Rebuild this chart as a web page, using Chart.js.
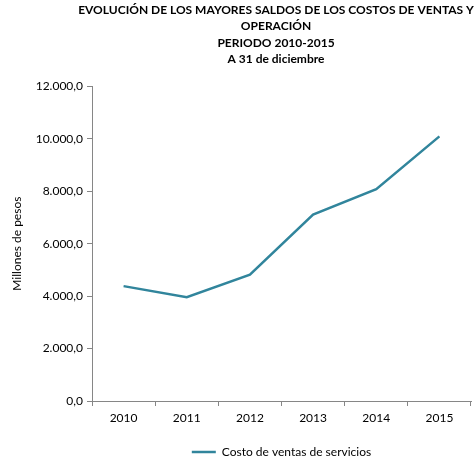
<!DOCTYPE html>
<html lang="es">
<head>
    <meta charset="UTF-8">
    <title>Costos de ventas 2010-2015</title>
    <style>
        html, body { margin: 0; background: #fff; overflow: hidden; }
        /* canvas runs past the page edge so the title is centred
           over the plot and can overhang it on the right */
        #chart-container { width: 550px; height: 468px; }
    </style>
</head>
<body>
    <div id="chart-container">
        <canvas id="costChart"></canvas>
    </div>

    <script src="https://cdn.jsdelivr.net/npm/chart.js"></script>
    <script>
        // Datos (millones de pesos)
        const years = ['2010', '2011', '2012', '2013', '2014', '2015'];
        const costoVentasServicios = [4380, 3960, 4820, 7110, 8080, 10090];
        const titleLines = [
            'EVOLUCIÓN DE LOS MAYORES SALDOS DE LOS COSTOS DE VENTAS Y',
            'OPERACIÓN',
            'PERIODO 2010-2015',
            'A 31 de diciembre'
        ];

        const axisGray = '#868686';
        const lineColor = '#31859C';

        // 12000 -> "12.000,0"
        function formatNumber(v) {
            const parts = Number(v).toFixed(1).split('.');
            parts[0] = parts[0].replace(/\B(?=(\d{3})+(?!\d))/g, '.');
            return parts.join(',');
        }

        Chart.defaults.font.family = 'Lato, "Liberation Sans", sans-serif';
        Chart.defaults.color = '#000';

        const ctx = document.getElementById('costChart').getContext('2d');
        new Chart(ctx, {
            type: 'line',
            data: {
                labels: years,
                datasets: [{
                    label: 'Costo de ventas de servicios',
                    data: costoVentasServicios,
                    borderColor: lineColor,
                    backgroundColor: lineColor,
                    borderWidth: 2.5,
                    pointRadius: 0,
                    tension: 0,
                    fill: false
                }]
            },
            options: {
                responsive: true,
                maintainAspectRatio: false,
                animation: false,
                layout: { padding: { left: 6, right: 4, top: 0, bottom: 0 } },
                plugins: {
                    title: {
                        display: true,
                        text: titleLines,
                        fullSize: true,
                        font: { size: 12, weight: 'bold', lineHeight: 1.36 },
                        color: '#000',
                        padding: { top: 2, bottom: 19 }
                    },
                    legend: {
                        position: 'bottom',
                        fullSize: false,
                        labels: {
                            usePointStyle: true,
                            pointStyle: 'line',
                            pointStyleWidth: 24,
                            font: { size: 12 },
                            color: '#000',
                            padding: 0
                        }
                    },
                    tooltip: { enabled: false }
                },
                scales: {
                    x: {
                        offset: true,
                        afterFit: function(scale) { scale.height = 45; },
                        grid: {
                            offset: true,
                            drawOnChartArea: false,
                            drawTicks: true,
                            tickLength: 5,
                            color: axisGray
                        },
                        border: { color: axisGray, width: 1 },
                        ticks: { font: { size: 12 }, padding: 5 }
                    },
                    y: {
                        min: 0,
                        max: 12000,
                        afterFit: function(scale) { scale.width = 86; },
                        grid: {
                            drawOnChartArea: false,
                            drawTicks: true,
                            tickLength: 5,
                            color: axisGray
                        },
                        border: { color: axisGray, width: 1 },
                        ticks: {
                            stepSize: 2000,
                            padding: 4,
                            font: { size: 12 },
                            callback: function(value) { return formatNumber(value); }
                        },
                        title: {
                            display: true,
                            text: 'Millones de pesos',
                            font: { size: 12 },
                            color: '#000',
                            padding: { top: 4, bottom: 4 }
                        }
                    },
                    // empty right-hand spacer: keeps the plot's right edge inside the page
                    spacer: {
                        type: 'linear',
                        axis: 'y',
                        position: 'right',
                        afterFit: function(scale) { scale.width = 75; },
                        grid: { display: false },
                        border: { display: false },
                        ticks: { display: false }
                    }
                }
            }
        });
    </script>
</body>
</html>
